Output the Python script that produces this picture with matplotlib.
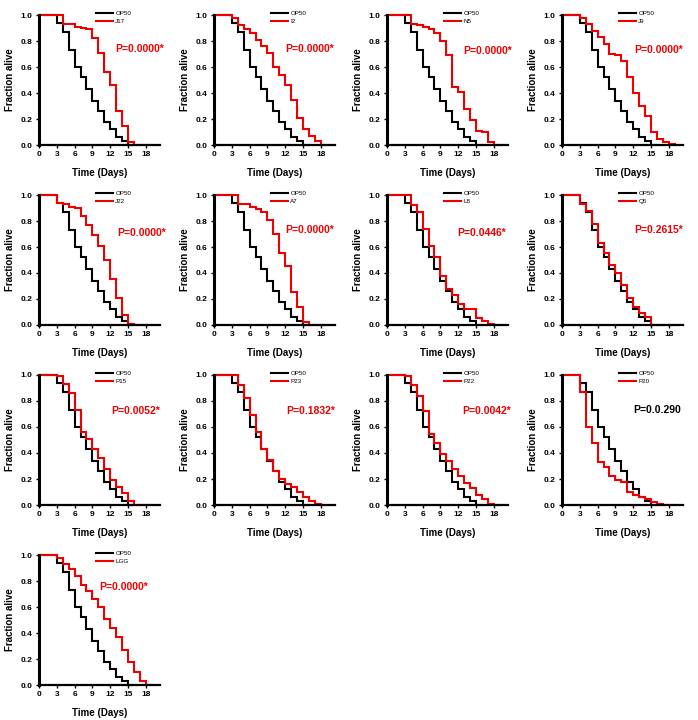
import numpy as np
import matplotlib
matplotlib.use("Agg")
import matplotlib.pyplot as plt

plt.rcParams['font.family'] = ['Liberation Sans', 'DejaVu Sans']

# ---------------- data ----------------
op50 = [1, 1, 1, 0.94, 0.87, 0.73, 0.60, 0.52, 0.43, 0.34, 0.26, 0.18, 0.12, 0.06, 0.03, 0, 0]

strains = ["J17", "I2", "N5", "J9", "J22", "A7", "L8", "Q5", "P15", "P23", "P22", "P20", "LGG"]
j17 = [1, 1, 1, 1, 0.93, 0.93, 0.91, 0.90, 0.89, 0.82, 0.71, 0.56, 0.46, 0.26, 0.15, 0.02, 0, 0, 0, 0]
i2 = [1, 1, 1, 0.98, 0.92, 0.89, 0.86, 0.81, 0.76, 0.71, 0.60, 0.54, 0.46, 0.35, 0.21, 0.12, 0.07, 0.03, 0, 0]
n5 = [1, 1, 1, 1, 0.93, 0.92, 0.91, 0.89, 0.86, 0.80, 0.69, 0.45, 0.41, 0.28, 0.19, 0.11, 0.10, 0.02, 0, 0]
j9 = [1, 1, 1, 0.98, 0.93, 0.88, 0.83, 0.78, 0.70, 0.69, 0.65, 0.52, 0.40, 0.30, 0.22, 0.10, 0.05, 0.02, 0.01, 0]
j22 = [1, 1, 1, 0.94, 0.93, 0.91, 0.90, 0.84, 0.77, 0.69, 0.61, 0.50, 0.35, 0.21, 0.08, 0.01, 0, 0, 0, 0]
a7 = [1, 1, 1, 1, 0.93, 0.93, 0.91, 0.89, 0.87, 0.81, 0.70, 0.55, 0.45, 0.25, 0.14, 0.02, 0, 0, 0, 0]
l8 = [1, 1, 1, 1, 0.92, 0.87, 0.74, 0.61, 0.52, 0.38, 0.28, 0.23, 0.16, 0.12, 0.12, 0.05, 0.03, 0.01, 0, 0]
q5 = [1, 1, 1, 0.93, 0.88, 0.78, 0.63, 0.55, 0.46, 0.40, 0.31, 0.21, 0.14, 0.09, 0.06, 0, 0, 0, 0, 0]
p15 = [1, 1, 1, 0.99, 0.93, 0.86, 0.73, 0.56, 0.51, 0.43, 0.36, 0.28, 0.19, 0.14, 0.09, 0.03, 0, 0, 0, 0]
p23 = [1, 1, 1, 1, 0.92, 0.82, 0.69, 0.56, 0.43, 0.35, 0.26, 0.20, 0.16, 0.14, 0.10, 0.06, 0.03, 0.01, 0, 0]
p22 = [1, 1, 1, 0.99, 0.92, 0.84, 0.72, 0.55, 0.48, 0.39, 0.34, 0.28, 0.22, 0.17, 0.13, 0.08, 0.05, 0.01, 0, 0]
p20 = [1, 1, 1, 0.87, 0.60, 0.48, 0.33, 0.29, 0.22, 0.19, 0.18, 0.10, 0.08, 0.06, 0.05, 0.02, 0.01, 0, 0, 0]
lgg = [1, 1, 1, 0.98, 0.93, 0.89, 0.84, 0.77, 0.72, 0.66, 0.60, 0.51, 0.44, 0.37, 0.27, 0.18, 0.10, 0.03, 0, 0]
strain_curves = [j17, i2, n5, j9, j22, a7, l8, q5, p15, p23, p22, p20, lgg]

pvalues = ["P=0.0000*", "P=0.0000*", "P=0.0000*", "P=0.0000*",
           "P=0.0000*", "P=0.0000*", "P=0.0446*", "P=0.2615*",
           "P=0.0052*", "P=0.1832*", "P=0.0042*", "P=0.0.290",
           "P=0.0000*"]
xticks = [0, 3, 6, 9, 12, 15, 18]
yticks = [0.0, 0.2, 0.4, 0.6, 0.8, 1.0]

# ---------------- style / layout ----------------
RED = '#ee0000'
p_colors = [RED] * 11 + ['black', RED]
p_pos = [(0.63, 0.74), (0.59, 0.74), (0.63, 0.72), (0.60, 0.73),
         (0.65, 0.71), (0.59, 0.73), (0.58, 0.71), (0.60, 0.73),
         (0.60, 0.72), (0.60, 0.72), (0.62, 0.72), (0.59, 0.73),
         (0.50, 0.75)]
col_left = [39, 214, 387, 562]
row_top = [15, 195, 375, 555]
W, H = 698, 720
aw, ah = 121, 130

fig = plt.figure(figsize=(W / 100, H / 100), dpi=100)

for i, (name, curve) in enumerate(zip(strains, strain_curves)):
    r, c = divmod(i, 4)
    ax = fig.add_axes([col_left[c] / W, 1 - (row_top[r] + ah) / H, aw / W, ah / H])
    ax.step(np.arange(len(op50)), op50, where='post', color='black', lw=1.5,
            clip_on=False, label='OP50', solid_joinstyle='miter')
    ax.step(np.arange(len(curve)), curve, where='post', color=RED, lw=1.5,
            clip_on=False, label=name, solid_joinstyle='miter')
    ax.set_xlim(0, 20.4)
    ax.set_ylim(0, 1.0)
    ax.set_xticks(xticks)
    ax.set_yticks(yticks)
    ax.set_yticklabels([f"{v:.1f}" for v in yticks])
    for s in ['top', 'right']:
        ax.spines[s].set_visible(False)
    ax.spines['left'].set_linewidth(2.2)
    ax.spines['bottom'].set_linewidth(1.6)
    ax.tick_params(direction='out', length=2.5, width=1, labelsize=6, pad=2)
    for lab in ax.get_xticklabels() + ax.get_yticklabels():
        lab.set_fontweight('bold')
    ax.set_xlabel('Time (Days)', fontsize=7, fontweight='bold', labelpad=7)
    ax.set_ylabel('Fraction alive', fontsize=7, fontweight='bold', labelpad=4)
    ax.legend(loc='upper left', bbox_to_anchor=(0.46, 1.04), frameon=False,
              fontsize=4.5, handlelength=2.7, handletextpad=0.4,
              labelspacing=0.35, borderpad=0.2, borderaxespad=0)
    ax.text(p_pos[i][0], p_pos[i][1], pvalues[i], transform=ax.transAxes,
            color=p_colors[i], fontsize=7.5, fontweight='bold', va='center', ha='left')

fig.savefig('out.png', dpi=100)
